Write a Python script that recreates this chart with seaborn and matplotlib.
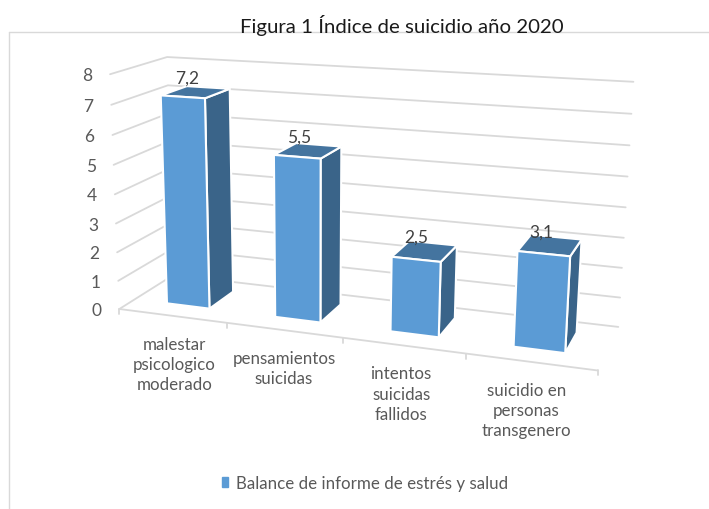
import numpy as np
import pandas as pd
import matplotlib
matplotlib.use('Agg')
import matplotlib.pyplot as plt
import seaborn as sns
from matplotlib.patches import Polygon, Patch
from matplotlib.lines import Line2D
from matplotlib.transforms import Transform, IdentityTransform

categorias = ['malestar\npsicologico\nmoderado', 'pensamientos\nsuicidas',
              'intentos\nsuicidas\nfallidos', 'suicidio en\npersonas\ntransgenero']
valores = [7.2, 5.5, 2.5, 3.1]
etiquetas = ['7,2', '5,5', '2,5', '3,1']
serie = 'Balance de informe de estrés y salud'
niveles = [0, 1, 2, 3, 4, 5, 6, 7, 8]

W, H = 709, 510
AZUL = '#5B9BD5'
AZUL_TOP = '#44749F'
AZUL_LADO = '#3A6489'
GRIS = '#D9D9D9'
TEXTO = '#595959'

# camera fitted from the box corners: (x, value, depth) -> pixel in the picture
mundo = np.array([[0, 0, 0], [1, 0, 0], [2, 0, 0], [3, 0, 0], [4, 0, 0],
                  [0, 8, 0], [0, 7, 0], [0, 6, 0], [0, 4, 0], [0, 0, 1], [0, 8, 1],
                  [4, 8, 1], [4, 0, 1], [4, 4, 1]], float)
pixel = np.array([[122, 310], [228, 324], [343, 339], [465, 355], [597, 372],
                  [108, 75], [110, 105], [112, 136], [116, 195], [170, 276], [170, 59],
                  [633, 83], [619, 327], [626, 208]], float)
filas, b = [], []
for (x, v, z), (u, w) in zip(mundo, pixel):
    filas.append([x, v, z, 1, 0, 0, 0, 0, -u * x, -u * v, -u * z])
    filas.append([0, 0, 0, 0, x, v, z, 1, -w * x, -w * v, -w * z])
    b += [u, w]
cam = np.linalg.lstsq(np.array(filas), np.array(b), rcond=None)[0]
cam = np.append(cam, 1).reshape(3, 4)


def proyectar(x, v, z):
    p = cam @ np.array([x, v, z, 1.0])
    return p[0] / p[2], H - p[1] / p[2]


class Plano(Transform):
    input_dims = 2
    output_dims = 2

    def __init__(self, z):
        super().__init__()
        self.z = z

    def transform_non_affine(self, values):
        return np.array([proyectar(x, v, self.z) for x, v in values])


Z0, Z1 = 0.27, 0.75

sns.set_style('white')
plt.rcParams['font.family'] = ['Lato', 'DejaVu Sans']

fig = plt.figure(figsize=(W / 100, H / 100), dpi=100)
ax = fig.add_axes([0, 0, 1, 1])
df = pd.DataFrame({'categoria': categorias, 'valor': valores, 'serie': serie})
sns.barplot(data=df, x='categoria', y='valor', hue='serie', palette=[AZUL], saturation=1,
            width=0.40, dodge=False, legend=False, ax=ax, zorder=5)
ax.set_xlim(-0.5, 3.5)
ax.set_ylim(0, 8)
ax.axis('off')

# chart frame
fig.add_artist(Line2D([9, 9], [0, H - 33], color=GRIS, lw=1, transform=IdentityTransform()))
fig.add_artist(Line2D([9, W], [H - 33, H - 33], color=GRIS, lw=1, transform=IdentityTransform()))

# walls and floor
for n in niveles:
    a = proyectar(0, n, 0)
    c = proyectar(0, n, 1)
    d = proyectar(4, n, 1)
    ax.plot([a[0], c[0], d[0]], [a[1], c[1], d[1]], color=GRIS, lw=1.3,
            transform=IdentityTransform(), zorder=1, clip_on=False)
    ax.text(a[0] - 18, a[1] - 1, str(n), ha='right', va='center', fontsize=12.5,
            color=TEXTO, transform=IdentityTransform())
base_a = proyectar(0, 0, 0)
base_b = proyectar(4, 0, 0)
ax.plot([base_a[0], base_b[0]], [base_a[1], base_b[1]], color=GRIS, lw=1.3,
        transform=IdentityTransform(), zorder=2)
for i in range(5):
    t = proyectar(i, 0, 0)
    ax.plot([t[0], t[0]], [t[1], t[1] - 5], color=GRIS, lw=1.3,
            transform=IdentityTransform(), zorder=2)

# bars: seaborn rectangles pushed through the camera, side and top faces added
orden = sorted(ax.containers[0], key=lambda r: r.get_x())
for i, r in enumerate(orden):
    x0 = r.get_x() + 0.51
    x1 = x0 + r.get_width()
    v = r.get_height()
    r.set_xy((x0, 0))
    r.set_transform(Plano(Z0))
    r.set_edgecolor('white')
    r.set_linewidth(1.5)
    r.set_zorder(6)
    lado = [proyectar(x1, 0, Z0), proyectar(x1, 0, Z1), proyectar(x1, v, Z1), proyectar(x1, v, Z0)]
    tapa = [proyectar(x0, v, Z0), proyectar(x0, v, Z1), proyectar(x1, v, Z1), proyectar(x1, v, Z0)]
    ax.add_patch(Polygon(lado, closed=True, facecolor=AZUL_LADO, edgecolor='white', lw=1.5,
                         transform=IdentityTransform(), zorder=5))
    ax.add_patch(Polygon(tapa, closed=True, facecolor=AZUL_TOP, edgecolor='white', lw=1.5,
                         transform=IdentityTransform(), zorder=5))
    e = proyectar((x0 + x1) / 2, v, (Z0 + Z1) / 2)
    ax.text(e[0] - 9, e[1] + 14, etiquetas[i], ha='center', va='center', fontsize=12.5,
            color='#404040', transform=IdentityTransform(), zorder=7)
    c = proyectar(i + 0.5, 0, 0)
    ax.text(c[0] + 2 - 2 * i, c[1] - 20, categorias[i], ha='center', va='top', fontsize=12.2,
            color=TEXTO, linespacing=1.32, transform=IdentityTransform())

fig.text(401.5 / W, 1 - 25 / H, 'Figura 1 Índice de suicidio año 2020', ha='center', va='center',
         fontsize=14.7, color='#1a1a1a')

ax.legend(handles=[Patch(color=AZUL, label=serie)], loc='center',
          bbox_to_anchor=(365 / W, 1 - 484 / H), bbox_transform=fig.transFigure,
          frameon=False, fontsize=12.2, handlelength=0.35, handleheight=0.45, handletextpad=0.5,
          labelcolor=TEXTO)

fig.savefig('out.png', dpi=100)
